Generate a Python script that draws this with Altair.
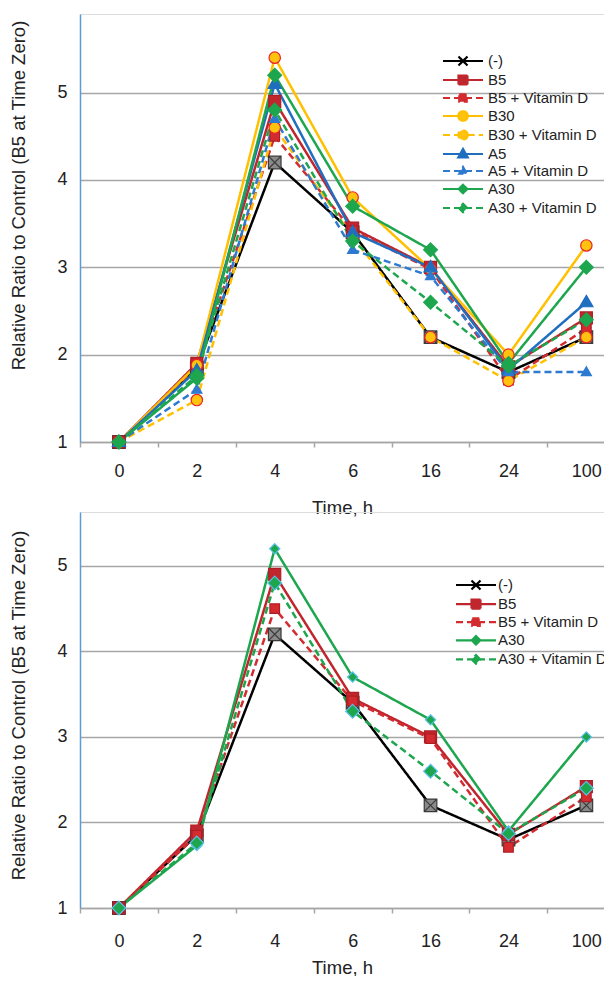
import altair as alt
import pandas as pd

# ---------------- data ----------------
times = ["0", "2", "4", "6", "16", "24", "100"]

ctrl   = [1.00, 1.85, 4.20, 3.40, 2.20, 1.80, 2.20]
b5     = [1.00, 1.90, 4.90, 3.45, 3.00, 1.86, 2.42]
b5_vd  = [1.00, 1.85, 4.50, 3.42, 2.98, 1.71, 2.30]
b30    = [1.00, 1.88, 5.40, 3.80, 2.98, 2.00, 3.25]
b30_vd = [1.00, 1.48, 4.60, 3.35, 2.20, 1.70, 2.20]
a5     = [1.00, 1.82, 5.10, 3.40, 3.00, 1.83, 2.60]
a5_vd  = [1.00, 1.60, 4.70, 3.20, 2.90, 1.80, 1.80]
a30    = [1.00, 1.73, 5.20, 3.70, 3.20, 1.90, 3.00]
a30_vd = [1.00, 1.76, 4.80, 3.30, 2.60, 1.87, 2.40]

names_top = ["(-)", "B5", "B5 + Vitamin D", "B30", "B30 + Vitamin D",
             "A5", "A5 + Vitamin D", "A30", "A30 + Vitamin D"]
names_bottom = ["(-)", "B5", "B5 + Vitamin D", "A30", "A30 + Vitamin D"]

series_values = {
    "(-)": ctrl, "B5": b5, "B5 + Vitamin D": b5_vd,
    "B30": b30, "B30 + Vitamin D": b30_vd,
    "A5": a5, "A5 + Vitamin D": a5_vd,
    "A30": a30, "A30 + Vitamin D": a30_vd,
}

# ---------------- styles ----------------
FONT = "Liberation Sans, Arial, Helvetica, sans-serif"
SOLID = [1, 0]
DASH = [7, 4]

BLACK, RED, RED_D = "#000000", "#C0262D", "#D42B30"
GOLD, BLUE, BLUE_D, GREEN = "#FFC000", "#1F6EC0", "#2E7AD1", "#1DA64E"

# marker paths (mark size 144 -> 1 unit = 6 px)
XBOX = "M-1.05,-1.05H1.05V1.05H-1.05ZM-1.05,-1.05L1.05,1.05M1.05,-1.05L-1.05,1.05"
SQ_L = "M-1,-1H1V1H-1Z"
SQ_S = "M-0.8,-0.8H0.8V0.8H-0.8Z"
CIRC = "M0.95,0A0.95,0.95,0,1,1,-0.95,0A0.95,0.95,0,1,1,0.95,0Z"
TRI_L = "M0,-1.15L1.1,0.75H-1.1Z"
TRI_S = "M0,-0.9L0.85,0.6H-0.85Z"
DIA_L = "M0,-1.15L1.15,0L0,1.15L-1.15,0Z"
DIA_S = "M0,-0.85L0.85,0L0,0.85L-0.85,0Z"

# legend symbol paths (symbol size 100 -> 1 unit = 5 px): line + marker
L_X = "M-4,0H4M-0.9,-0.9L0.9,0.9M-0.9,0.9L0.9,-0.9"
L_SQ = "M-4,0H4M-0.9,-0.9H0.9V0.9H-0.9Z"
L_SQS = "M-4,0H4M-0.75,-0.75H0.75V0.75H-0.75Z"
L_CI = "M-4,0H-0.95M0.95,0H4M0.95,0A0.95,0.95,0,1,1,-0.95,0A0.95,0.95,0,1,1,0.95,0Z"
L_TR = "M-4,0H4M0,-1L0.95,0.7H-0.95Z"
L_TRS = "M-4,0H4M0,-0.8L0.75,0.55H-0.75Z"
L_DI = "M-4,0H4M0,-0.85L0.85,0L0,0.85L-0.85,0Z"

STEP = 77.9
PLOT_W = 524


def build_df(names):
    rows = []
    for s in names:
        for i, (t, v) in enumerate(zip(times, series_values[s])):
            rows.append({"time": t, "idx": i, "series": s, "value": v})
    return pd.DataFrame(rows)


def panel(names, line_colors, dashes, marker_paths, marker_fill, marker_stroke,
          legend_paths, height, ymax, lx, ly, lab_off, row_pad, title_y,
          label_pad, title_pad):
    df = build_df(names)
    x = alt.X(
        "time:O", sort=times,
        scale=alt.Scale(type="point", domain=times, padding=0.363, align=0.688),
        axis=alt.Axis(title="Time, h", labelAngle=0, tickOffset=-STEP / 2,
                      labelOffset=STEP / 2, tickSize=5, tickColor="#A6A6A6",
                      tickWidth=1.5, domainColor="#A6A6A6", domainWidth=1.5,
                      labelPadding=label_pad, titlePadding=title_pad, grid=False,
                      labelFontSize=18, titleFontSize=18.5, labelColor="#222222",
                      titleColor="#222222", titleFontWeight="normal",
                      labelFont=FONT, titleFont=FONT),
    )
    y = alt.Y(
        "value:Q",
        scale=alt.Scale(domain=[1, ymax], nice=False, zero=False),
        axis=alt.Axis(title="Relative Ratio to Control (B5 at Time Zero)",
                      values=[1, 2, 3, 4, 5], ticks=False, labelPadding=13,
                      domainColor="#5B9BD5", domainWidth=1.5,
                      gridColor="#A6A6A6", gridWidth=1.5, titlePadding=28,
                      titleY=title_y, labelFontSize=18, titleFontSize=18.5,
                      labelColor="#222222", titleColor="#222222",
                      titleFontWeight="normal", labelFont=FONT, titleFont=FONT),
    )
    leg = alt.Legend(title=None, orient="none", legendX=lx, legendY=ly,
                     direction="vertical", padding=0, symbolSize=100,
                     symbolStrokeWidth=2.2, symbolOffset=12.5, labelOffset=lab_off,
                     labelFontSize=15, labelFont=FONT, labelColor="#222222",
                     rowPadding=row_pad, symbolFillColor="#000000",
                     symbolStrokeColor="#000000", symbolOpacity=1, labelLimit=200)
    base = alt.Chart(df)
    lines = base.mark_line(strokeWidth=2.5).encode(
        x=x, y=y, order=alt.Order("idx:Q"),
        stroke=alt.Stroke("series:N", scale=alt.Scale(domain=names, range=line_colors), legend=None),
        strokeDash=alt.StrokeDash("series:N", scale=alt.Scale(domain=names, range=dashes), legend=None),
    )
    pts = base.mark_point(filled=True, size=144, strokeWidth=1.2, opacity=1).encode(
        x=x, y=y,
        shape=alt.Shape("series:N", scale=alt.Scale(domain=names, range=marker_paths), legend=None),
        fill=alt.Fill("series:N", scale=alt.Scale(domain=names, range=marker_fill), legend=None),
        stroke=alt.Stroke("series:N", scale=alt.Scale(domain=names, range=marker_stroke), legend=None),
    )
    key = base.mark_point(filled=True, size=0, strokeWidth=2.2, opacity=1).encode(
        x=x, y=y,
        shape=alt.Shape("series:N", scale=alt.Scale(domain=names, range=legend_paths), legend=leg),
        fill=alt.Fill("series:N", scale=alt.Scale(domain=names, range=marker_fill), legend=leg),
        stroke=alt.Stroke("series:N", scale=alt.Scale(domain=names, range=line_colors), legend=leg),
        strokeDash=alt.StrokeDash("series:N", scale=alt.Scale(domain=names, range=dashes), legend=leg),
    )
    return alt.layer(lines, pts, key).resolve_scale(
        shape="independent", fill="independent", stroke="independent",
        strokeDash="independent",
    ).properties(width=PLOT_W, height=height)


top = panel(
    names_top,
    line_colors=[BLACK, RED, RED_D, GOLD, GOLD, BLUE, BLUE_D, GREEN, GREEN],
    dashes=[SOLID, SOLID, DASH, SOLID, DASH, SOLID, DASH, SOLID, DASH],
    marker_paths=[XBOX, SQ_L, SQ_S, CIRC, CIRC, TRI_L, TRI_S, DIA_L, DIA_L],
    marker_fill=["#8A8A8A", RED, RED_D, "#FFC20E", "#FFC20E", BLUE, BLUE_D, GREEN, GREEN],
    marker_stroke=["#3A3A3A", "#B01E25", "#B01E25", "#E8232A", "#E8232A", BLUE, BLUE_D, GREEN, GREEN],
    legend_paths=[L_X, L_SQ, L_SQS, L_CI, L_CI, L_TR, L_TRS, L_DI, L_DI],
    height=428, ymax=5.9, lx=363, ly=39.5, lab_off=17.5, row_pad=0,
    title_y=181, label_pad=15, title_pad=18.75,
)

bottom = panel(
    names_bottom,
    line_colors=[BLACK, RED, RED_D, GREEN, GREEN],
    dashes=[SOLID, SOLID, DASH, SOLID, DASH],
    marker_paths=[XBOX, SQ_L, SQ_S, DIA_S, DIA_L],
    marker_fill=["#8A8A8A", RED, RED_D, GREEN, GREEN],
    marker_stroke=["#3A3A3A", "#B01E25", "#B01E25", "#59BFEA", "#59BFEA"],
    legend_paths=[L_X, L_SQ, L_SQS, L_DI, L_DI],
    height=396, ymax=5.63, lx=376, ly=65.5, lab_off=14.5, row_pad=0.1,
    title_y=193, label_pad=19, title_pad=8.5,
)

# autosize "none": picture width = plot width + left/right padding (596 px),
# picture height = top + bottom padding (968 px), so the page is exactly 612 x 984
chart = alt.vconcat(top, bottom, spacing=70, bounds="flush").resolve_scale(
    shape="independent", fill="independent", stroke="independent",
    strokeDash="independent",
).properties(
    autosize=alt.AutoSizeParams(type="none"),
    padding={"left": 72, "top": 6, "right": 0, "bottom": 962},
    background="white",
).configure_view(stroke=None).configure(font=FONT)

chart.save("out.html", embed_options={"renderer": "svg", "actions": False})
